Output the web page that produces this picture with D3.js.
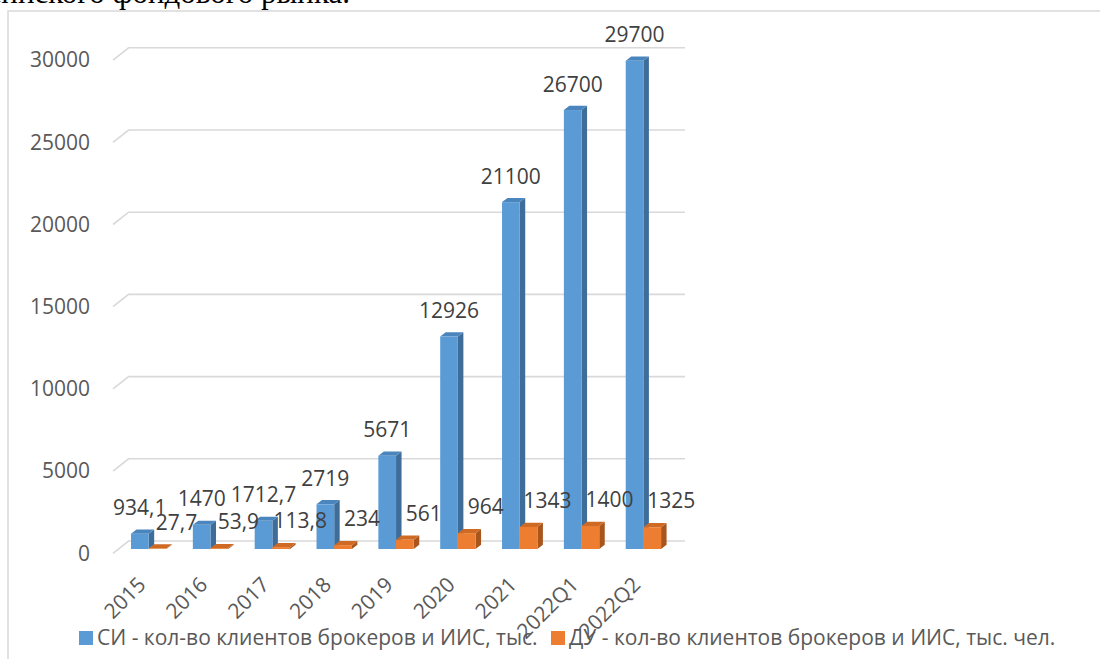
<!DOCTYPE html>
<html>
<head>
<meta charset="utf-8">
<script src="https://cdn.jsdelivr.net/npm/d3@7"></script>
<style>
  html, body { margin: 0; padding: 0; background: #ffffff; }
  svg { display: block; }
</style>
</head>
<body>
<svg id="chart" width="1100" height="659"></svg>
<script>
const categories = ["2015", "2016", "2017", "2018", "2019", "2020", "2021", "2022Q1", "2022Q2"];
const siValues = [934.1, 1470, 1712.7, 2719, 5671, 12926, 21100, 26700, 29700];
const duValues = [27.7, 53.9, 113.8, 234, 561, 964, 1343, 1400, 1325];
const yTicks = [0, 5000, 10000, 15000, 20000, 25000, 30000];
const seriesNames = ["СИ - кол-во клиентов брокеров и ИИС, тыс.", "ДУ - кол-во клиентов брокеров и ИИС, тыс. чел."];
const headingText = "российского фондового рынка.";

const svg = d3.select("#chart");
const W = 1100, H = 659;
const FONT = "'Open Sans', 'Noto Sans', sans-serif";
const FS = 21;

// heading fragment cut off at the top
svg.append("text")
  .attr("x", 350).attr("y", 3)
  .attr("text-anchor", "end")
  .attr("font-family", "'Liberation Serif', 'Times New Roman', serif")
  .attr("font-size", 31)
  .attr("fill", "#000")
  .text(headingText);

// chart frame
svg.append("rect")
  .attr("x", 8).attr("y", 11)
  .attr("width", W + 20).attr("height", H + 20)
  .attr("fill", "#fff")
  .attr("stroke", "#d9d9d9").attr("stroke-width", 1.5);

// scales
const base = 549;
const y = d3.scaleLinear().domain([0, 30000]).range([base, base - 493.2]);
const x = d3.scaleBand().domain(categories).range([113, 113 + 9 * 61.84]).padding(0);
const bw = x.bandwidth();
const barW = bw * 0.286;
const barOff = bw * 0.291;

// 3D wall offsets
const wallDx = 15.6, wallDy = -12.3;
const frontShift = 4.3;
const backShift = -8;
const wallLeft = 113, wallRight = 685;

// gridlines
const grid = svg.append("g");
yTicks.forEach(v => {
  const yb = y(v) + backShift;
  const yf = y(v) + frontShift;
  grid.append("path")
    .attr("d", `M${wallLeft},${yf} L${wallLeft + wallDx},${yb} L${wallRight},${yb}`)
    .attr("fill", "none")
    .attr("stroke", "#d9d9d9")
    .attr("stroke-width", 1.6);
});

// y axis labels
svg.append("g").selectAll("text")
  .data(yTicks).join("text")
  .attr("x", 90)
  .attr("y", d => y(d) + frontShift)
  .attr("dy", "0.35em")
  .attr("text-anchor", "end")
  .attr("font-family", FONT)
  .attr("font-size", FS)
  .attr("fill", "#595959")
  .text(d => d);

// 3D bar helper
const depthDx = 5.5, depthDy = -4.2;
function drawBars(values, xOffset, colors) {
  const g = svg.append("g");
  values.forEach((v, i) => {
    const x0 = x(categories[i]) + xOffset;
    const x1 = x0 + barW;
    const yt = y(v);
    g.append("path")
      .attr("d", `M${x1},${yt} L${x1 + depthDx},${yt + depthDy} L${x1 + depthDx},${base + depthDy} L${x1},${base} Z`)
      .attr("fill", colors.side);
    g.append("path")
      .attr("d", `M${x0},${yt} L${x1},${yt} L${x1 + depthDx},${yt + depthDy} L${x0 + depthDx},${yt + depthDy} Z`)
      .attr("fill", colors.top);
    g.append("rect")
      .attr("x", x0).attr("y", yt)
      .attr("width", barW).attr("height", base - yt)
      .attr("fill", colors.front);
  });
}

drawBars(siValues, barOff, { front: "#5b9bd5", side: "#3e6d9a", top: "#4a85bd" });
drawBars(duValues, barOff + barW, { front: "#ed7d31", side: "#a9561d", top: "#cf6a25" });

const fmt = v => String(v).replace(".", ",");

// data labels
svg.append("g").selectAll("text")
  .data(siValues).join("text")
  .attr("x", (d, i) => x(categories[i]) + barOff + barW / 2)
  .attr("y", d => y(d) - 18.5)
  .attr("text-anchor", "middle")
  .attr("font-family", FONT)
  .attr("font-size", FS)
  .attr("fill", "#404040")
  .text(fmt);

svg.append("g").selectAll("text")
  .data(duValues).join("text")
  .attr("x", (d, i) => x(categories[i]) + barOff + barW * 1.5 + 19)
  .attr("y", d => y(d) - 19)
  .attr("text-anchor", "middle")
  .attr("font-family", FONT)
  .attr("font-size", FS)
  .attr("fill", "#404040")
  .text(fmt);

// x axis labels rotated
svg.append("g").selectAll("text")
  .data(categories).join("text")
  .attr("transform", d => `translate(${x(d) + bw / 2 + 3},${base + 37}) rotate(-45)`)
  .attr("text-anchor", "end")
  .attr("font-family", FONT)
  .attr("font-size", FS)
  .attr("fill", "#595959")
  .text(d => d);

// legend
const legendX = [79, 551];
const legendColors = ["#5b9bd5", "#ed7d31"];
const lg = svg.append("g");
seriesNames.forEach((name, i) => {
  lg.append("rect")
    .attr("x", legendX[i]).attr("y", 631)
    .attr("width", 14).attr("height", 14)
    .attr("fill", legendColors[i]);
  lg.append("text")
    .attr("x", legendX[i] + 18).attr("y", 645)
    .attr("font-family", FONT)
    .attr("font-size", FS)
    .attr("fill", "#595959")
    .text(name);
});
</script>
</body>
</html>
